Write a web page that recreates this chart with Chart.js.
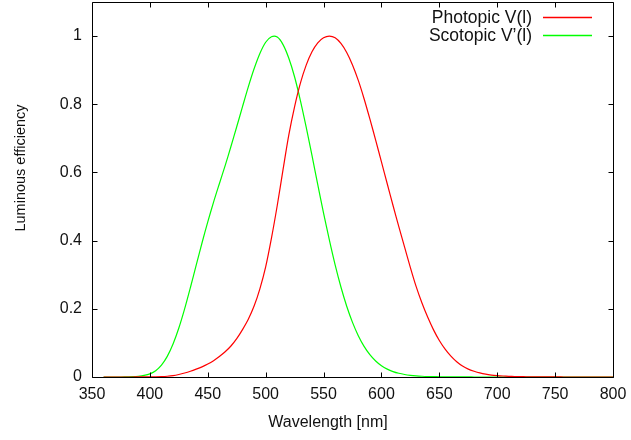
<!DOCTYPE html>
<html><head><meta charset="utf-8">
<script src="https://cdn.jsdelivr.net/npm/chart.js@4.4.1/dist/chart.umd.min.js"></script>
<style>html,body{margin:0;padding:0;background:#fff}#wrap{width:631px;height:440px;position:relative}canvas{display:block}</style>
</head><body><div id="wrap"><canvas id="c" width="631" height="440" style="width:631px;height:440px"></canvas></div>
<script>
const wavelengths = [360,365,370,375,380,385,390,395,400,405,410,415,420,425,430,435,440,445,450,455,460,465,470,475,480,485,490,495,500,505,510,515,520,525,530,535,540,545,550,555,560,565,570,575,580,585,590,595,600,605,610,615,620,625,630,635,640,645,650,655,660,665,670,675,680,685,690,695,700,705,710,715,720,725,730,735,740,745,750,755,760,765,770,775,780,785,790,795,800];
const photopic = [0.0000039,0.000007,0.0000121,0.00002,0.000039,0.000064,0.00012,0.000217,0.000396,0.00064,0.00121,0.00218,0.004,0.0073,0.0116,0.01684,0.023,0.0298,0.038,0.048,0.06,0.0739,0.09098,0.1126,0.13902,0.1693,0.20802,0.2586,0.323,0.4073,0.503,0.6082,0.71,0.7932,0.862,0.91485,0.954,0.9803,0.99495,1.0,0.995,0.9786,0.952,0.9154,0.87,0.8163,0.757,0.6949,0.631,0.5668,0.503,0.4412,0.381,0.321,0.265,0.217,0.175,0.1382,0.107,0.0816,0.061,0.04458,0.032,0.0232,0.017,0.01192,0.00821,0.005723,0.004102,0.002929,0.002091,0.001484,0.001047,0.00074,0.00052,0.000361,0.000249,0.000172,0.00012,0.0000848,0.00006,0.0000424,0.00003,0.0000212,0.000015,0.0000106,0.0000075,0.0000053,0.0000037];
const scotopic = [0,0,0,0,0.000589,0.001108,0.002209,0.00453,0.00929,0.01852,0.03484,0.0604,0.0966,0.1436,0.1998,0.2625,0.3281,0.3931,0.455,0.513,0.567,0.62,0.676,0.734,0.793,0.851,0.904,0.949,0.982,0.998,0.997,0.975,0.935,0.88,0.811,0.733,0.65,0.564,0.481,0.402,0.3288,0.2639,0.2076,0.1602,0.1212,0.0899,0.0655,0.0469,0.03315,0.02312,0.01593,0.01088,0.00737,0.00497,0.003335,0.002235,0.001497,0.001005,0.000677,0.000459,0.000313,0.000215,0.000148,0.000103,0.000072,0.00005,0.000035,0.000025,0.000018,0.000013,0.0000091,0.0000066,0.0000048,0.0000035,0.0000025,0.0000018,0.0000013,0.0000009,0.0000007,0.0000005,0.0000004,0.0000003,0.0000002,0.0000001,0.0000001,0,0,0,0];
const seriesLabels = ["Photopic V(l)", "Scotopic V\u2019(l)"];
const seriesColors = ["rgb(255,0,0)", "rgb(0,255,0)"];
const xTitle = "Wavelength [nm]";
const yTitle = "Luminous efficiency";
const xTickValues = [350,400,450,500,550,600,650,700,750,800];
const yTickValues = [0,0.2,0.4,0.6,0.8,1];

const FONT = "'Liberation Sans', Arial, sans-serif";

const framePlugin = {
  id: 'frame',
  afterDatasetsDraw(chart) {
    const {ctx, chartArea: a, scales: {x, y}} = chart;
    ctx.save();
    ctx.strokeStyle = '#000';
    ctx.lineWidth = 1;
    ctx.beginPath();
    const L = Math.round(a.left) + 0.5, R = Math.round(a.right) + 0.5;
    const T = Math.round(a.top) + 0.5, B = Math.round(a.bottom) + 0.5;
    ctx.rect(L, T, R - L, B - T);
    const tl = 5;
    x.ticks.forEach(t => {
      const px = Math.round(x.getPixelForValue(t.value)) + 0.5;
      ctx.moveTo(px, B); ctx.lineTo(px, B - tl);
      ctx.moveTo(px, T); ctx.lineTo(px, T + tl);
    });
    y.ticks.forEach(t => {
      const py = Math.round(y.getPixelForValue(t.value)) + 0.5;
      ctx.moveTo(L, py); ctx.lineTo(L + tl, py);
      ctx.moveTo(R, py); ctx.lineTo(R - tl, py);
    });
    ctx.stroke();
    ctx.restore();

    // legend (gnuplot style: text, then line sample)
    seriesLabels.forEach((lab, i) => {
      const yy = 17 + i * 18.3;
      ctx.save();
      ctx.font = '17.5px ' + FONT;
      ctx.textAlign = 'right';
      ctx.textBaseline = 'middle';
      ctx.fillStyle = '#111';
      ctx.fillText(lab, 532, yy + 1);
      ctx.restore();
      ctx.save();
      ctx.strokeStyle = seriesColors[i];
      ctx.lineWidth = 1.5;
      ctx.beginPath();
      ctx.moveTo(543, Math.round(yy) + 0.5);
      ctx.lineTo(592, Math.round(yy) + 0.5);
      ctx.stroke();
      ctx.restore();
    });

    // axis titles
    ctx.save();
    ctx.fillStyle = '#111';
    ctx.font = '16px ' + FONT;
    ctx.textAlign = 'center';
    ctx.textBaseline = 'middle';
    ctx.fillText(xTitle, 328, 423);
    ctx.font = '14.5px ' + FONT;
    ctx.translate(21, 168);
    ctx.rotate(-Math.PI / 2);
    ctx.fillText(yTitle, 0, 0);
    ctx.restore();
  }
};

new Chart(document.getElementById('c'), {
  type: 'line',
  data: {
    datasets: [
      { label: seriesLabels[0], data: wavelengths.map((w, i) => ({x: w, y: photopic[i]})), borderColor: seriesColors[0], borderWidth: 1.2, pointRadius: 0, tension: 0.3, fill: false },
      { label: seriesLabels[1], data: wavelengths.map((w, i) => ({x: w, y: scotopic[i]})), borderColor: seriesColors[1], borderWidth: 1.2, pointRadius: 0, tension: 0.3, fill: false }
    ]
  },
  options: {
    responsive: false,
    maintainAspectRatio: false,
    animation: false,
    devicePixelRatio: 1,
    layout: { padding: { top: 2, right: 18, left: 0, bottom: 0 } },
    plugins: { legend: { display: false }, tooltip: { enabled: false } },
    scales: {
      x: {
        type: 'linear', min: 350, max: 800,
        afterBuildTicks: s => { s.ticks = xTickValues.map(v => ({value: v})); },
        afterFit: s => { s.height = 63; s.paddingLeft = 0; s.paddingRight = 0; },
        grid: { display: false, drawTicks: false },
        border: { display: false },
        ticks: { autoSkip: false, padding: 8, color: '#111', font: { family: FONT, size: 16 }, maxRotation: 0, callback: v => String(v) }
      },
      y: {
        type: 'linear', min: 0, max: 1.1,
        afterBuildTicks: s => { s.ticks = yTickValues.map(v => ({value: v})); },
        afterFit: s => { s.width = 92; s.paddingTop = 0; s.paddingBottom = 0; },
        grid: { display: false, drawTicks: false },
        border: { display: false },
        ticks: { autoSkip: false, padding: 10, color: '#111', font: { family: FONT, size: 16 }, callback: v => String(Number(v.toFixed(1))) }
      }
    }
  },
  plugins: [framePlugin]
});
</script></body></html>
